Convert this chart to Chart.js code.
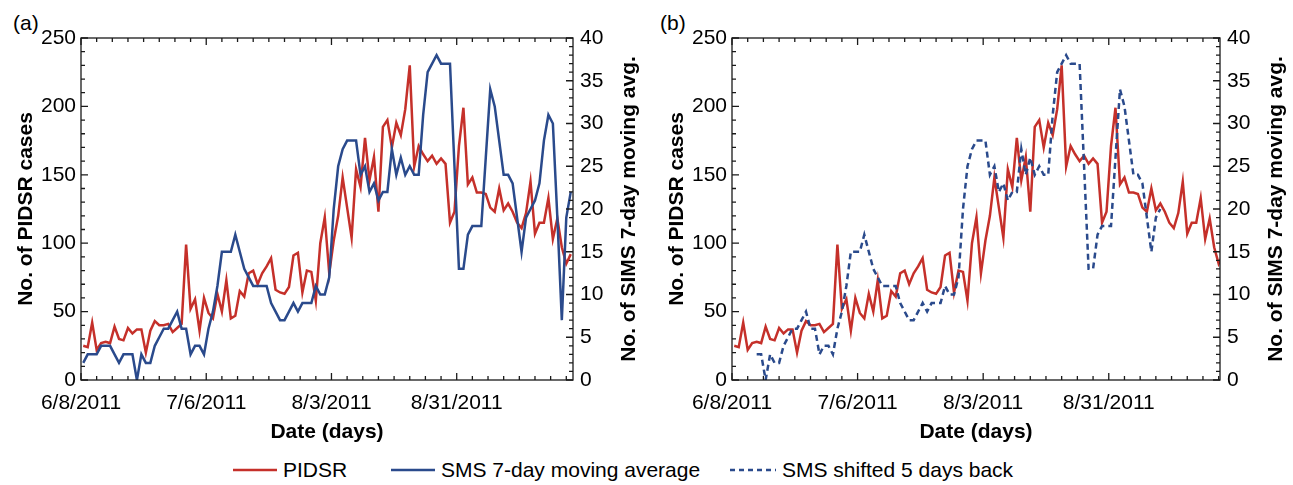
<!DOCTYPE html>
<html lang="en">
<head>
  <meta charset="UTF-8">
  <title>PIDSR vs SMS</title>
  <script src="https://cdn.jsdelivr.net/npm/chart.js"></script>
  <style>
    body { margin: 0; background: #fff; }
    #wrap { position: relative; width: 1293px; height: 485px; font-family: "Liberation Sans", Arial, Helvetica, sans-serif; color: #000; }
    canvas { position: absolute; top: 0; }
    .tag { position: absolute; top: 12px; font-size: 21px; line-height: 21px; }
    .key { position: absolute; top: 458px; font-size: 21px; line-height: 24px; white-space: nowrap; }
    .key svg { vertical-align: middle; margin-right: 6px; margin-top: -3px; }
  </style>
</head>
<body>
<div id="wrap">
  <div class="tag" style="left:13px">(a)</div>
  <canvas id="chartA" width="646" height="445" style="left:0"></canvas>
  <div class="tag" style="left:660px">(b)</div>
  <canvas id="chartB" width="642" height="445" style="left:651px"></canvas>

  <div class="key" style="left:233px">
    <svg width="44" height="6"><line x1="0" y1="3" x2="44" y2="3" stroke="#c5302a" stroke-width="2.5"/></svg>PIDSR</div>
  <div class="key" style="left:391px">
    <svg width="44" height="6"><line x1="0" y1="3" x2="44" y2="3" stroke="#2a4a8c" stroke-width="2.5"/></svg>SMS 7-day moving average</div>
  <div class="key" style="left:730px">
    <svg width="46" height="6"><line x1="0" y1="3" x2="46" y2="3" stroke="#2a4a8c" stroke-width="2.5" stroke-dasharray="5 4"/></svg>SMS shifted 5 days back</div>
</div>

<script>
const FONT = '"Liberation Sans", Arial, Helvetica, sans-serif';
const RED = '#c5302a';
const BLUE = '#2a4a8c';

// x ticks: day index of each labelled date (points sit half a day after the tick)
const dateLabels = ['6/8/2011', '7/6/2011', '8/3/2011', '8/31/2011'];
const dateTicks = [-0.5, 27.5, 55.5, 83.5];

// daily PIDSR cases, starting 6/8/2011
const pidsr = [
  25, 24, 42, 22, 27, 28, 27, 39, 30, 29,
  38, 34, 37, 37, 20, 36, 43, 40, 40, 41,
  35, 38, 41, 99, 52, 59, 36, 60, 49, 45,
  63, 50, 73, 45, 47, 65, 61, 78, 80, 70,
  78, 83, 89, 66, 64, 63, 68, 91, 93, 64,
  80, 79, 58, 100, 119, 78, 102, 120, 148, 126,
  104, 154, 141, 177, 146, 163, 123, 185, 190, 170,
  188, 179, 198, 230, 156, 171, 165, 160, 164, 158,
  162, 158, 115, 123, 171, 199, 143, 148, 137, 137,
  136, 126, 123, 140, 124, 129, 123, 115, 111, 122,
  145, 107, 115, 115, 133, 103, 118, 97, 85, 92
];

// SMS 7-day moving average, same days
const sms7day = [
  2, 3, 3, 3, 4, 4, 4, 3, 2, 3,
  3, 3, 0, 3, 2, 2, 4, 5, 6, 6,
  7, 8, 6, 6, 3, 4, 4, 3, 6, 8,
  11, 15, 15, 15, 17, 15, 13, 12, 11, 11,
  11, 11, 9, 8, 7, 7, 8, 9, 8, 9,
  9, 9, 11, 10, 10, 12, 20, 25, 27, 28,
  28, 28, 24, 25, 22, 23, 21, 22, 22, 27,
  24, 26, 24, 25, 24, 24, 31, 36, 37, 38,
  37, 37, 37, 25, 13, 13, 17, 18, 18, 18,
  26, 34, 32, 28, 24, 24, 23, 19, 15, 19,
  20, 21, 23, 28, 31, 30, 19, 7, 19, 22
];

// panel (b): SMS moved 5 days earlier, shown for days 5..95
const shiftDays = 5;
const shiftedFirst = 5;
const shiftedLast = 95;

const smsShifted = sms7day.map((v, i) =>
  (i >= shiftedFirst && i <= shiftedLast) ? sms7day[i + shiftDays] : null);

const toPoints = arr => arr.map((v, i) => ({ x: i, y: v }));

// inward tick marks, frame box and the right-hand title (reads bottom to top)
const axisFrame = {
  id: 'axisFrame',
  afterDatasetsDraw(chart) {
    const { ctx, chartArea: a, scales: { x, y, y2 } } = chart;
    ctx.save();
    ctx.strokeStyle = '#1a1a1a';
    ctx.lineWidth = 1.3;
    ctx.beginPath();
    for (let v = x.min; v <= x.max + 0.01; v += 3.5) {
      const px = x.getPixelForValue(v);
      const len = Math.abs((v - x.min) % 28) < 0.01 ? 7 : 4;
      ctx.moveTo(px, a.bottom); ctx.lineTo(px, a.bottom - len);
      ctx.moveTo(px, a.top); ctx.lineTo(px, a.top + len);
    }
    for (let v = 0; v <= 250; v += 10) {
      const py = y.getPixelForValue(v);
      ctx.moveTo(a.left, py); ctx.lineTo(a.left + (v % 50 === 0 ? 7 : 4), py);
    }
    for (let v = 0; v <= 40; v += 1) {
      const py = y2.getPixelForValue(v);
      ctx.moveTo(a.right, py); ctx.lineTo(a.right - (v % 5 === 0 ? 7 : 4), py);
    }
    ctx.stroke();
    ctx.strokeRect(a.left, a.top, a.right - a.left, a.bottom - a.top);

    ctx.fillStyle = '#000';
    ctx.font = 'bold 21px ' + FONT;
    ctx.textAlign = 'center';
    ctx.textBaseline = 'middle';
    ctx.translate(a.right + 56, (a.top + a.bottom) / 2);
    ctx.rotate(-Math.PI / 2);
    ctx.fillText('No. of SIMS 7-day moving avg.', 0, 0);
    ctx.restore();
  }
};

function makePanel(id, xMax, datasets) {
  const tickFont = { family: FONT, size: 21 };
  const titleFont = { family: FONT, size: 21, weight: 'bold' };
  return new Chart(document.getElementById(id), {
    type: 'line',
    data: { datasets: datasets },
    options: {
      responsive: false,
      animation: false,
      layout: { padding: { top: 38, left: 0, right: 0, bottom: 0 } },
      elements: { point: { radius: 0 }, line: { tension: 0, borderWidth: 2.5 } },
      plugins: { legend: { display: false }, tooltip: { enabled: false } },
      scales: {
        x: {
          type: 'linear',
          min: -0.5,
          max: xMax,
          afterBuildTicks: s => { s.ticks = dateTicks.map(v => ({ value: v })); },
          afterFit: s => { s.height = 65; },
          ticks: {
            autoSkip: false, maxRotation: 0, padding: 11,
            font: tickFont, color: '#000',
            callback: (v, i) => dateLabels[i]
          },
          grid: { display: false, drawTicks: false },
          border: { display: false },
          title: { display: true, text: 'Date (days)', font: titleFont, color: '#000', padding: { top: 0, bottom: 0 } }
        },
        y: {
          position: 'left',
          min: 0, max: 250,
          afterFit: s => { s.width = 81; },
          ticks: { stepSize: 50, padding: 5, font: tickFont, color: '#000' },
          grid: { display: false, drawTicks: false },
          border: { display: false },
          title: { display: true, text: 'No. of PIDSR cases', font: titleFont, color: '#000', padding: { top: 14, bottom: 0 } }
        },
        y2: {
          position: 'right',
          min: 0, max: 40,
          afterFit: s => { s.width = 73; },
          ticks: { stepSize: 5, padding: 7, font: tickFont, color: '#000' },
          grid: { display: false, drawTicks: false },
          border: { display: false }
        }
      }
    },
    plugins: [axisFrame]
  });
}

makePanel('chartA', 109.5, [
  { label: 'SMS 7-day moving average', data: toPoints(sms7day), yAxisID: 'y2', borderColor: BLUE },
  { label: 'PIDSR', data: toPoints(pidsr), yAxisID: 'y', borderColor: RED }
]);

makePanel('chartB', 108.3, [
  { label: 'SMS shifted 5 days back', data: toPoints(smsShifted), yAxisID: 'y2', borderColor: BLUE, borderDash: [6, 4] },
  { label: 'PIDSR', data: toPoints(pidsr), yAxisID: 'y', borderColor: RED }
]);
</script>
</body>
</html>
